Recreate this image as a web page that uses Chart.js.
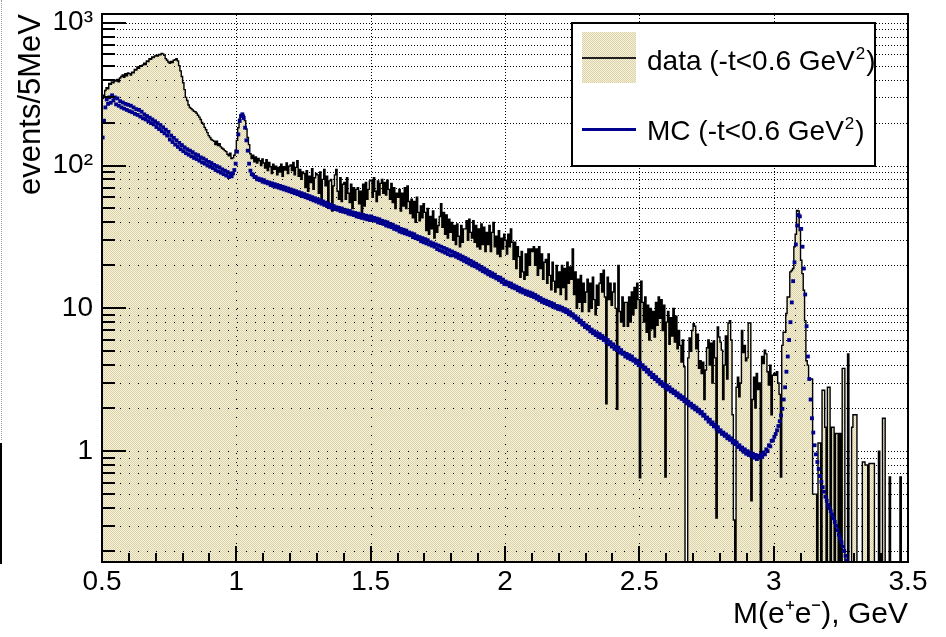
<!DOCTYPE html>
<html>
<head>
<meta charset="utf-8">
<script src="https://cdn.jsdelivr.net/npm/chart.js@4.4.1/dist/chart.umd.min.js"></script>
<style>
html,body{margin:0;padding:0;background:#fff;}
#wrap{position:relative;width:946px;height:637px;overflow:hidden;background:#fff;}
#c{display:block;}
.edgedot{position:absolute;left:1px;top:0;width:0;height:440px;border-left:1px dotted #9a9a9a;}
.edge{position:absolute;left:0;top:443px;width:2px;height:121px;background:#000;}
</style>
</head>
<body>
<div id="wrap"><canvas id="c" width="946" height="637"></canvas><div class="edgedot"></div><div class="edge"></div></div>
<script>
// ---------------- data (5 MeV bins starting at 0.5 GeV) ----------------
const binStart = 0.5;
const binWidth = 0.005;

// data: events per 5 MeV bin, 0.50 .. 3.50 GeV (10 bins per row)
const dataCounts = [
  295,310,335,350,345,375,370,385,380,395,      // 0.50
  390,400,385,410,420,430,415,440,425,445,      // 0.55
  440,430,450,445,470,465,490,480,500,495,      // 0.60
  505,520,510,540,535,560,555,575,570,585,      // 0.65
  590,585,600,595,610,605,590,560,545,530,      // 0.70
  520,535,525,545,550,560,540,500,460,420,      // 0.75
  380,340,300,285,265,255,250,245,240,238,      // 0.80
  232,225,218,210,200,195,185,178,170,162,      // 0.85
  157,152,150,148,140,148,138,142,135,132,      // 0.90
  130,127,125,120,117,122,112,113,118,128,      // 0.95
  150,184,212,228,231,225,206,180,157,140,      // 1.00
  121,112,118,106,115,104,112,108,100,111,      // 1.05
  104,96,110,92,105,98,88,102,94,99,            // 1.10
  86,97,90,102,84,98,93,104,88,99,              // 1.15
  101,92,105,86,97,108,84,94,80,90,             // 1.20
  88,70,92,66,84,76,95,68,82,88,                // 1.25
  86,64,90,58,80,94,72,84,52,78,                // 1.30
  80,48,72,86,94,66,58,82,56,74,                // 1.35
  76,58,82,64,55,74,50,70,57,68,                // 1.40
  70,54,66,44,74,52,76,58,68,78,                // 1.45
  79,60,82,66,56,78,62,75,80,64,                // 1.50
  76,62,79,68,58,75,55,70,50,64,                // 1.55
  60,68,48,64,52,70,50,72,56,46,                // 1.60
  58,43,56,40,60,47,41,52,43,54,                // 1.65
  47,35,50,33,44,36,48,31,42,34,                // 1.70
  38,44,54,37,47,33,45,31,42,34,                // 1.75
  40,30,38,28,39,32,27,38,29,36,                // 1.80
  36,41,30,42,34,31,41,29,38,27,                // 1.85
  36,26,39,28,37,25,34,28,38,25,                // 1.90
  34,40,27,32,24,35,23,31,26,33,                // 1.95
  30,24,33,27,36,29,22,29,19,27,                // 2.00
  23,16.5,25,18,16,24,17,26,20,26,              // 2.05
  25,27,20,26,17,27,19,24,16,21,                // 2.10
  22,15,24,17,13.5,21,15.5,13,20,14,            // 2.15
  18,12.5,20,14,19,11.5,21,15,19.5,16,          // 2.20
  26,12.5,18,10,16,11,17,9.5,15,11,             // 2.25
  13,16,9.5,15,10,16.5,11.5,9,14.5,10.5,        // 2.30
  15,17.5,13,18.5,12,2.15,16.5,11.5,15,10.5,    // 2.35
  13,15,10,1.96,20,9.5,8,12,7.5,11,             // 2.40
  11,7.5,12,8,13,9,14,10,15,11.5,               // 2.45
  0.65,15.5,11,8,12,6.8,10.5,6,10,7.2,          // 2.50
  9.5,6.3,11,7.6,12,8.5,11.5,7,10.5,0.66,       // 2.55
  8,9.5,5.6,8.6,6.4,10,5.8,8.8,5.2,7,           // 2.60
  5.5,4.2,6,3.9,0,0,4.5,6.2,5,7,                // 2.65
  7.8,7.5,5.2,6.6,3.8,4.3,3.5,4.2,2.3,3.7,      // 2.70
  5.3,6,4,5.7,3,5.9,4.5,0.34,7.4,6.3,           // 2.75
  5.8,5.1,2.3,4,6.4,3.2,7.9,8.2,6,1.8,          // 2.80
  0.33,0,2.8,3.3,2.4,3,7,4.9,5.5,4.3,           // 2.85
  4.5,7.9,7.9,0.45,2.3,3.3,2,3.5,2.7,3,         // 2.90
  0,4.6,4.1,5.1,4.8,3.6,2.9,4,1.8,3.4,          // 2.95
  3.5,3.4,3.6,3,2.5,0.66,5.5,6.8,6.8,9.2,       // 3.00
  12,12,18,18.4,19,27,33,48.5,48,35,            // 3.05
  21.7,17.5,13.4,8.2,4.3,4,3.2,3.2,3.2,0.5,     // 3.10
  0.5,0.5,0,1.14,1.14,0,2.67,2.67,1.47,0,       // 3.15
  2.8,2.8,0,1.47,1.47,0,1.33,1.33,0,1.33,       // 3.20
  0,3.8,3.8,0,0,4.8,0,0,1.47,1.8,               // 3.25
  1.8,1.8,0,0,0,0,0.84,0.84,0.8,0.8,            // 3.30
  0,0.82,0.82,0.82,0.82,0,0,0,1,0,              // 3.35
  0,1.7,1.7,0,0,0,0.66,0,0,0,                   // 3.40
  0,0,0,0,0.66,0,0,0,0,0                        // 3.45
];

// MC: events per 5 MeV bin, 0.50 .. 3.275 GeV
const mcCounts = [
  157,206,255,290,270,300,275,310,285,300,      // 0.50
  268,295,262,282,255,276,250,270,245,266,      // 0.55
  240,262,236,255,230,248,226,245,220,238,      // 0.60
  214,228,210,222,204,216,198,210,194,204,      // 0.65
  186,198,180,192,174,185,168,178,162,172,      // 0.70
  152,162,146,156,140,150,135,144,130,139,      // 0.75
  126,134,122,130,119,127,116,124,113,120,      // 0.80
  111,118,108,114,105,112,103,109,100,106,      // 0.85
  98,104,96,101,93,99,91,97,89,94,              // 0.90
  87,92,85,90,83,88,84,88,93,103,               // 0.95
  125,165,205,222,228,215,184,150,127,103,      // 1.00
  92,87,86,83,83,80,81,79,80,77,                // 1.05
  79,76,77,75,76,73,75,72,74,71,                // 1.10
  73,70,72,69,71,68,70,67,69,66,                // 1.15
  68,65,67,64,66,63,65,62,64,61,                // 1.20
  63,60,62,59,61,58,60,57,59,56,                // 1.25
  58,55,57,54,56,53,55,52,54,51,                // 1.30
  53,50,52,49.5,51,49,50.5,48,50,47.5,          // 1.35
  49,47,48.5,46,48,45.5,47,45,46.5,44,          // 1.40
  46,43.5,45.5,43,45,42.5,44.5,42,44,41.5,      // 1.45
  44,41.5,43,41,42.5,40,42,39.5,41,39,          // 1.50
  40.5,38,40,37.5,39,37,38.5,36,37.5,35.5,      // 1.55
  37,34.5,36,34,35.5,33.5,35,33,34,32.5,        // 1.60
  33.5,31.5,33,31,32,30.5,31.5,29.5,31,29,      // 1.65
  30.5,28.5,30,28,29,27.5,28.5,27,28,26,        // 1.70
  27.5,25.5,27,25,26.5,24.5,26,24,25.5,23.5,    // 1.75
  25,23.5,24.5,23,24,22.5,23.5,22,23,21.5,      // 1.80
  22.5,21,22,20.5,21.5,20,21,19.7,20.5,19.2,    // 1.85
  20,18.7,19.5,18.2,19,17.8,18.5,17.3,18,16.9,  // 1.90
  17.6,16.6,17.2,16.2,16.6,15.8,16.4,15.3,15.9,14.8, // 1.95
  15.4,14.7,15.1,14.3,14.9,14,14.5,13.8,14.2,13.4,   // 2.00
  13.9,13.1,13.6,12.9,13.3,12.6,13.1,12.4,12.9,12.2, // 2.05
  12.7,12,12.4,11.7,12.1,11.4,11.8,11.1,11.5,10.9,   // 2.10
  11.3,10.7,11.1,10.5,10.9,10.3,10.7,10.1,10.4,9.9,  // 2.15
  10.3,9.8,10.1,9.6,9.9,9.4,9.7,9.1,9.4,8.9,         // 2.20
  9.1,8.6,8.8,8.3,8.5,8,8.2,7.7,7.9,7.4,             // 2.25
  7.6,7.2,7.4,6.9,7.1,6.7,6.9,6.5,6.7,6.3,           // 2.30
  6.6,6.2,6.4,6,6.2,5.8,6,5.6,5.8,5.4,               // 2.35
  5.6,5.2,5.4,5.1,5.3,4.9,5.1,4.8,4.9,4.6,           // 2.40
  4.8,4.5,4.7,4.4,4.6,4.3,4.4,4.15,4.3,4,            // 2.45
  4.15,3.9,4,3.75,3.85,3.6,3.7,3.45,3.55,3.3,        // 2.50
  3.42,3.2,3.3,3.08,3.16,2.96,3.05,2.86,2.95,2.77,   // 2.55
  2.88,2.7,2.8,2.62,2.7,2.55,2.62,2.46,2.54,2.38,    // 2.60
  2.46,2.32,2.39,2.24,2.3,2.16,2.22,2.09,2.15,2.02,  // 2.65
  2.08,1.96,2.02,1.9,1.95,1.84,1.88,1.77,1.8,1.69,   // 2.70
  1.72,1.61,1.66,1.55,1.59,1.49,1.53,1.43,1.47,1.37, // 2.75
  1.4,1.32,1.35,1.28,1.31,1.23,1.27,1.2,1.23,1.15,   // 2.80
  1.18,1.12,1.15,1.07,1.1,1.03,1.06,0.99,1.03,0.96,  // 2.85
  1,0.94,0.98,0.92,0.96,0.9,0.94,0.88,0.93,0.9,      // 2.90
  0.95,0.91,0.98,0.95,1.03,1,1.1,1.08,1.18,1.19,     // 2.95
  1.26,1.32,1.4,1.5,1.62,1.78,1.98,2.3,2.8,3.6,      // 3.00
  4.6,6,8,11,15.5,21,28,38,45,44,                    // 3.05
  36,27,19,12.5,7.5,4.6,3.2,2.3,1.7,1.35,            // 3.10
  1.1,0.95,0.84,0.75,0.67,0.61,0.56,0.52,0.48,0.45,  // 3.15
  0.42,0.4,0.38,0.36,0.34,0.32,0.3,0.28,0.26,0.245,  // 3.20
  0.23,0.215,0.2,0.185,0.172                         // 3.25
];

// axis ticks / labels
const xTickValues = [0.5, 1, 1.5, 2, 2.5, 3, 3.5];
const xTickLabels = ['0.5', '1', '1.5', '2', '2.5', '3', '3.5'];
const xMinorTicks = [0.6,0.7,0.8,0.9,1.1,1.2,1.3,1.4,1.6,1.7,1.8,1.9,2.1,2.2,2.3,2.4,2.6,2.7,2.8,2.9,3.1,3.2,3.3,3.4];
const xGridValues = [1, 1.5, 2, 2.5, 3];
const yTickValues = [0.2,0.3,0.4,0.5,0.6,0.7,0.8,0.9,1,2,3,4,5,6,7,8,9,10,20,30,40,50,60,70,80,90,100,200,300,400,500,600,700,800,900,1000];
const yMajorValues = [1, 10, 100, 1000];
const yTickLabels = ['1', '10', '10²', '10³'];
const yMin = 0.1675, yMax = 1150;
const xTitle = 'M(e⁺e⁻), GeV';
const yTitle = 'events/5MeV';
const legendEntries = [
  { base: 'data (-t<0.6 GeV', sup: '2', tail: ')' },
  { base: 'MC (-t<0.6 GeV', sup: '2', tail: ')' }
];

// ---------------- build chart ----------------
const dataPts = dataCounts.map((v, i) => ({ x: +(binStart + i * binWidth).toFixed(4), y: v }));
dataPts.push({ x: +(binStart + dataCounts.length * binWidth).toFixed(4), y: dataCounts[dataCounts.length - 1] });
const mcPts = mcCounts.map((v, i) => ({ x: +(binStart + (i + 0.5) * binWidth).toFixed(5), y: v }));

Chart.defaults.font.family = "'Liberation Sans', Arial, Helvetica, sans-serif";
Chart.defaults.color = '#000';

const canvas = document.getElementById('c');
const ctx0 = canvas.getContext('2d');

function makePattern(ctx) {
  const c = document.createElement('canvas');
  c.width = 2; c.height = 2;
  const p = c.getContext('2d');
  p.fillStyle = '#f5f1de'; p.fillRect(0, 0, 2, 2);
  p.fillStyle = '#dbd3a4'; p.fillRect(0, 0, 1, 1); p.fillRect(1, 1, 1, 1);
  return ctx.createPattern(c, 'repeat');
}
const fillPattern = makePattern(ctx0);
const mcColor = '#00008f';

function drawGrid(chart, dash) {
  const { ctx, chartArea: a, scales: { x, y } } = chart;
  ctx.save();
  ctx.beginPath();
  ctx.rect(a.left, a.top, a.right - a.left, a.bottom - a.top);
  ctx.clip();
  ctx.strokeStyle = '#000';
  ctx.lineWidth = 1;
  ctx.setLineDash(dash);
  ctx.beginPath();
  for (const v of xGridValues) {
    const px = Math.round(x.getPixelForValue(v)) + 0.5;
    ctx.moveTo(px, a.bottom); ctx.lineTo(px, a.top);
  }
  for (const v of yTickValues) {
    const py = Math.round(y.getPixelForValue(v)) + 0.5;
    ctx.moveTo(a.left, py); ctx.lineTo(a.right, py);
  }
  ctx.stroke();
  ctx.restore();
}

function drawFrameAndTicks(chart) {
  const { ctx, chartArea: a, scales: { x, y } } = chart;
  ctx.save();
  ctx.setLineDash([]);
  ctx.strokeStyle = '#000';
  ctx.lineWidth = 2;
  ctx.beginPath();
  for (const v of yTickValues) {
    const py = Math.round(y.getPixelForValue(v));
    const len = yMajorValues.includes(v) ? 24 : 13;
    ctx.moveTo(a.left, py); ctx.lineTo(a.left + len, py);
  }
  for (const v of xTickValues) {
    const px = Math.round(x.getPixelForValue(v));
    ctx.moveTo(px, a.bottom); ctx.lineTo(px, a.bottom - 16);
  }
  for (const v of xMinorTicks) {
    const px = Math.round(x.getPixelForValue(v));
    ctx.moveTo(px, a.bottom); ctx.lineTo(px, a.bottom - 9);
  }
  ctx.stroke();
  ctx.strokeRect(a.left, a.top, a.right - a.left, a.bottom - a.top);
  ctx.restore();
}

function drawLegend(chart) {
  const ctx = chart.ctx;
  const L = 572, T = 23, W = 303, H = 143;
  ctx.save();
  ctx.setLineDash([]);
  ctx.fillStyle = '#fff';
  ctx.fillRect(L, T, W, H);
  ctx.lineWidth = 2;
  ctx.strokeStyle = '#000';
  ctx.strokeRect(L, T, W, H);
  ctx.fillStyle = fillPattern;
  ctx.fillRect(L + 10, T + 9, 54, 51);
  ctx.strokeStyle = '#222';
  ctx.lineWidth = 2;
  ctx.beginPath(); ctx.moveTo(L + 10, T + 35); ctx.lineTo(L + 64, T + 35); ctx.stroke();
  ctx.strokeStyle = mcColor;
  ctx.lineWidth = 3;
  ctx.beginPath(); ctx.moveTo(L + 10, T + 106.5); ctx.lineTo(L + 64, T + 106.5); ctx.stroke();
  ctx.fillStyle = '#000';
  ctx.textBaseline = 'alphabetic';
  ctx.textAlign = 'left';
  const baselines = [T + 47, T + 117];
  legendEntries.forEach((e, i) => {
    let xx = L + 75;
    const by = baselines[i];
    ctx.font = "28px 'Liberation Sans', Arial, sans-serif";
    ctx.fillText(e.base, xx, by);
    xx += ctx.measureText(e.base).width + 1;
    ctx.font = "17px 'Liberation Sans', Arial, sans-serif";
    ctx.fillText(e.sup, xx, by - 11);
    xx += ctx.measureText(e.sup).width + 1;
    ctx.font = "28px 'Liberation Sans', Arial, sans-serif";
    ctx.fillText(e.tail, xx, by);
  });
  ctx.restore();
}

const rootPlugin = {
  id: 'rootStyle',
  beforeDatasetsDraw(chart) { drawGrid(chart, [1, 2]); },
  afterDatasetsDraw(chart) {
    drawGrid(chart, [1, 8]);
    drawFrameAndTicks(chart);
    drawLegend(chart);
  }
};

new Chart(ctx0, {
  type: 'line',
  data: {
    datasets: [
      {
        label: 'MC (-t<0.6 GeV²)',
        data: mcPts,
        showLine: false,
        pointStyle: 'rect',
        pointRadius: 2.7,
        pointHoverRadius: 2.7,
        pointBackgroundColor: mcColor,
        pointBorderColor: mcColor,
        pointBorderWidth: 0,
        borderColor: mcColor,
        order: 0
      },
      {
        label: 'data (-t<0.6 GeV²)',
        data: dataPts,
        stepped: true,
        borderColor: '#000',
        borderWidth: 1.4,
        backgroundColor: fillPattern,
        fill: 'start',
        pointRadius: 0,
        pointHoverRadius: 0,
        order: 1
      }
    ]
  },
  options: {
    responsive: false,
    animation: false,
    devicePixelRatio: 1,
    parsing: false,
    normalized: true,
    events: [],
    layout: { padding: { top: 14, right: 38, left: 0, bottom: 0 } },
    plugins: { legend: { display: false }, tooltip: { enabled: false }, title: { display: false } },
    scales: {
      x: {
        type: 'linear',
        min: 0.5,
        max: 3.5,
        afterBuildTicks: s => { s.ticks = xTickValues.map(v => ({ value: v })); },
        afterFit: s => { s.height = 75; },
        grid: { display: false, drawTicks: false },
        border: { display: false },
        ticks: {
          autoSkip: false, maxRotation: 0, minRotation: 0, padding: 3,
          font: { size: 28 }, color: '#000',
          callback: v => { const i = xTickValues.indexOf(v); return i >= 0 ? xTickLabels[i] : null; }
        },
        title: { display: true, text: xTitle, align: 'end', color: '#000', font: { size: 30 }, padding: { top: 0, bottom: 4 } }
      },
      y: {
        type: 'logarithmic',
        min: yMin,
        max: yMax,
        afterBuildTicks: s => { s.ticks = yTickValues.map(v => ({ value: v })); },
        afterFit: s => { s.width = 102; },
        grid: { display: false, drawTicks: true, tickLength: 9 },
        border: { display: false },
        ticks: {
          autoSkip: false, padding: 0,
          font: { size: 28, lineHeight: 0.8 }, color: '#000',
          callback: v => { const i = yMajorValues.indexOf(v); return i >= 0 ? yTickLabels[i] : null; }
        },
        title: { display: true, text: yTitle, align: 'end', color: '#000', font: { size: 31 }, padding: { top: 13, bottom: 0 } }
      }
    }
  },
  plugins: [rootPlugin]
});
</script>
</body>
</html>
